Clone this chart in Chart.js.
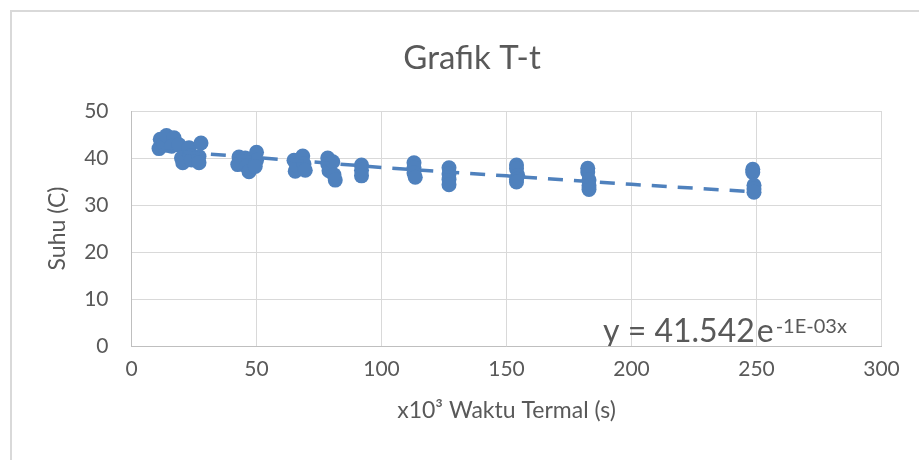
<!DOCTYPE html>
<html>
<head>
<meta charset="utf-8">
<title>Grafik T-t</title>
<script src="https://cdn.jsdelivr.net/npm/chart.js@4.4.0/dist/chart.umd.min.js"></script>
<style>
  html, body { margin: 0; padding: 0; background: #fff; overflow: hidden; }
  body { width: 919px; height: 460px; position: relative; }
  #frame { position: absolute; left: 10px; top: 10px; width: 1000px; height: 600px; border: 2px solid #d9d9d9; box-sizing: border-box; }
  #wrap { position: absolute; left: 0; top: 0; width: 944px; height: 460px; }
</style>
</head>
<body>
<div id="frame"></div>
<div id="wrap"><canvas id="chart"></canvas></div>
<script>
// waktu termal (x10^3 s) dan suhu (C)
const timeValues = [
    11, 11.5, 13, 14, 17, 16, 19, 20, 20.5, 23, 23.5, 24, 27.8, 27, 27,
    43, 42.5, 45.5, 46, 47, 50, 50, 49.5,
    65, 65.5, 66, 68.5, 69, 69.5,
    78.5, 78.5, 79, 80.5, 81, 81.5,
    92, 92, 92,
    113, 113, 113, 113.5,
    127, 127, 127, 127,
    154, 154, 154.5, 154, 154,
    182.5, 182.5, 183, 183, 183,
    248.5, 248.5, 249, 249, 249
];
const tempValues = [
    42.0, 44.0, 43.0, 44.8, 44.3, 42.5, 42.8, 40.0, 39.0, 42.2, 40.5, 39.6, 43.2, 40.3, 39.0,
    40.2, 38.6, 40.0, 38.2, 37.1, 41.2, 39.5, 38.2,
    39.5, 37.2, 38.4, 40.4, 38.7, 37.4,
    40.0, 38.7, 37.3, 39.2, 36.4, 35.3,
    38.5, 37.4, 36.2,
    39.0, 38.0, 36.8, 35.9,
    37.9, 36.6, 35.4, 34.3,
    38.5, 37.7, 36.3, 35.5, 34.9,
    37.8, 37.0, 35.3, 34.1, 33.3,
    37.6, 36.9, 34.2, 33.4, 32.7
];

// garis tren eksponensial
const trendTime = [11, 50, 100, 150, 200, 249];
const trendTemp = [41.6, 40.1, 38.0, 36.2, 34.4, 32.8];

const xTicks = [0, 50, 100, 150, 200, 250, 300];
const yTicks = [0, 10, 20, 30, 40, 50];

const equationMain = 'y = 41.542';
const equationBase = 'e';
const equationExp = '-1E-03x';

const blue = '#4f81bd';
const textGrey = '#595959';
const fontName = 'Lato, "Open Sans", sans-serif';

const points = timeValues.map((t, i) => ({ x: t, y: tempValues[i] }));
const trend = trendTime.map((t, i) => ({ x: t, y: trendTemp[i] }));

const equationLabel = {
    id: 'equationLabel',
    afterDatasetsDraw(chart) {
        const { ctx, chartArea } = chart;
        ctx.save();
        ctx.beginPath();
        ctx.rect(chartArea.left, chartArea.top, chartArea.right - chartArea.left, chartArea.bottom - chartArea.top);
        ctx.clip();
        ctx.fillStyle = textGrey;
        ctx.textBaseline = 'alphabetic';
        ctx.textAlign = 'left';
        let x = 603;
        const base = 342;
        ctx.font = '32px ' + fontName;
        ctx.fillText(equationMain, x, base);
        x += ctx.measureText(equationMain).width + 2;
        ctx.fillText(equationBase, x, base);
        x += ctx.measureText(equationBase).width + 2;
        ctx.font = '20px ' + fontName;
        ctx.fillText(equationExp, x, 333);
        ctx.restore();
    }
};

new Chart(document.getElementById('chart'), {
    type: 'scatter',
    data: {
        datasets: [{
            label: 'Suhu',
            data: points,
            backgroundColor: blue,
            borderColor: blue,
            borderWidth: 0,
            pointRadius: 7.5,
            order: 2
        }, {
            label: 'Tren',
            data: trend,
            showLine: true,
            borderColor: blue,
            borderWidth: 3.5,
            borderDash: [15, 11],
            pointRadius: 0,
            fill: false,
            order: 1
        }]
    },
    options: {
        responsive: true,
        maintainAspectRatio: false,
        animation: false,
        layout: { padding: 0 },
        plugins: {
            legend: { display: false },
            tooltip: { enabled: false },
            title: {
                display: true,
                text: 'Grafik T-t',
                color: textGrey,
                font: { family: fontName, size: 33, weight: 'normal' },
                padding: { top: 38.2, bottom: 33.2 }
            }
        },
        scales: {
            x: {
                type: 'linear',
                min: 0,
                max: 300,
                afterFit(scale) { scale.height = 114; },
                afterBuildTicks(scale) { scale.ticks = xTicks.map(v => ({ value: v })); },
                grid: { color: '#d9d9d9', drawTicks: false },
                border: { color: '#bfbfbf' },
                ticks: { color: textGrey, font: { family: fontName, size: 21 }, padding: 11, maxRotation: 0 },
                title: {
                    display: true,
                    text: 'x10³ Waktu Termal (s)',
                    color: textGrey,
                    font: { family: fontName, size: 23 },
                    padding: { top: 0, bottom: 35.2 }
                }
            },
            y: {
                type: 'linear',
                min: 0,
                max: 50,
                afterFit(scale) { scale.width = 131.5; },
                afterBuildTicks(scale) { scale.ticks = yTicks.map(v => ({ value: v })); },
                grid: { color: '#d9d9d9', drawTicks: false },
                border: { color: '#bfbfbf' },
                ticks: { color: textGrey, font: { family: fontName, size: 21 }, padding: 23 },
                title: {
                    display: true,
                    text: 'Suhu (C)',
                    color: textGrey,
                    font: { family: fontName, size: 23 },
                    padding: { top: 44.2, bottom: 0 }
                }
            },
            // ruang kosong di kanan supaya judul tetap di tengah bingkai
            spacer: {
                type: 'linear',
                position: 'right',
                afterFit(scale) { scale.width = 62.5; },
                grid: { display: false, drawTicks: false },
                border: { display: false },
                ticks: { display: false }
            }
        }
    },
    plugins: [equationLabel]
});
</script>
</body>
</html>
